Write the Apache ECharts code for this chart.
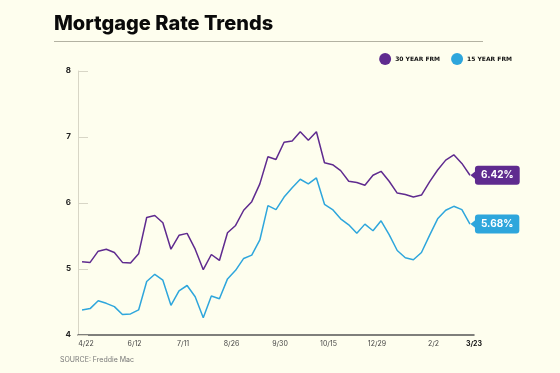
<!DOCTYPE html>
<html>
<head>
<meta charset="utf-8">
<script src="https://cdn.jsdelivr.net/npm/echarts@6/dist/echarts.min.js"></script>
<style>
html,body{margin:0;padding:0;background:#fefeee;}
#chart{width:560px;height:373px;}
</style>
</head>
<body>
<div id="chart"></div>
<script>
// Weekly dates (4/21/2022 - 3/23/2023)
const weeks = ['4/21','4/28','5/5','5/12','5/19','5/26','6/2','6/9','6/16','6/23','6/30','7/7','7/14','7/21','7/28','8/4','8/11','8/18','8/25','9/1','9/8','9/15','9/22','9/29','10/6','10/13','10/20','10/27','11/3','11/10','11/17','11/23','12/1','12/8','12/15','12/22','12/29','1/5','1/12','1/19','1/26','2/2','2/9','2/16','2/23','3/2','3/9','3/16','3/23'];
const frm30 = [5.11,5.10,5.27,5.30,5.25,5.10,5.09,5.23,5.78,5.81,5.70,5.30,5.51,5.54,5.30,4.99,5.22,5.13,5.55,5.66,5.89,6.02,6.29,6.70,6.66,6.92,6.94,7.08,6.95,7.08,6.61,6.58,6.49,6.33,6.31,6.27,6.42,6.48,6.33,6.15,6.13,6.09,6.12,6.32,6.50,6.65,6.73,6.60,6.42];
const frm15 = [4.38,4.40,4.52,4.48,4.43,4.31,4.32,4.38,4.81,4.92,4.83,4.45,4.67,4.75,4.58,4.26,4.59,4.55,4.85,4.98,5.16,5.21,5.44,5.96,5.90,6.09,6.23,6.36,6.29,6.38,5.98,5.90,5.76,5.67,5.54,5.68,5.58,5.73,5.52,5.28,5.17,5.14,5.25,5.51,5.76,5.89,5.95,5.90,5.68];
const xTickLabels = ['4/22','6/12','7/11','8/26','9/30','10/15','12/29','2/2','3/23'];
const xTickIndex = [0,6,12,18,24,30,36,43,48];
const yTicks = [4,5,6,7,8];

const PURPLE = '#5f2b8f';
const BLUE = '#2ea6dc';

function endLabel(color) {
  return {
    show: true,
    distance: 5,
    backgroundColor: color,
    borderRadius: 3,
    padding: [4, 6, 4, 6],
    color: '#fff',
    fontFamily: 'Inter, sans-serif',
    fontWeight: 'bold',
    fontSize: 10,
    lineHeight: 11,
    formatter: p => p.value.toFixed(2) + '%'
  };
}
function pointer(arr, color) {
  const last = arr.length - 1;
  return {
    silent: true,
    animation: false,
    data: [{ coord: [last, arr[last]] }],
    symbol: 'triangle',
    symbolRotate: 90,
    symbolSize: [8, 5],
    symbolOffset: [3, 0],
    itemStyle: { color: color },
    label: { show: false }
  };
}

const chart = echarts.init(document.getElementById('chart'));
chart.setOption({
  backgroundColor: '#fefeee',
  animation: false,
  title: {
    text: 'Mortgage Rate Trends',
    left: 49,
    top: 9,
    textStyle: { fontFamily: 'Inter, sans-serif', fontWeight: 800, fontSize: 20, color: '#0a0a0a' }
  },
  graphic: [{
    type: 'line',
    shape: { x1: 54, y1: 41.5, x2: 483, y2: 41.5 },
    style: { stroke: '#b3b2a2', lineWidth: 1 }
  }, {
    type: 'text',
    left: 60,
    top: 356,
    style: { text: 'SOURCE: Freddie Mac', fill: '#777', font: '7px Inter, sans-serif' }
  }],
  legend: {
    right: 43,
    top: 48,
    icon: 'circle',
    itemWidth: 12,
    itemHeight: 12,
    itemGap: 11,
    textStyle: { fontFamily: '"DejaVu Sans", sans-serif', fontWeight: 'bold', fontSize: 6, color: '#111', padding: [0, 0, 0, -1] },
    data: ['30 YEAR FRM', '15 YEAR FRM']
  },
  grid: { left: 78, right: 86, top: 71, bottom: 38 },
  xAxis: {
    type: 'category',
    data: weeks,
    boundaryGap: true,
    axisLine: { lineStyle: { color: '#555', width: 1.5 } },
    axisTick: { inside: true, length: 5, interval: 0, lineStyle: { color: '#666' } },
    axisLabel: {
      interval: 0,
      margin: 5,
      padding: [0, 0, 0, 8],
      color: '#444',
      fontFamily: 'Inter, sans-serif',
      fontSize: 7,
      formatter: (v, i) => {
        const k = xTickIndex.indexOf(i);
        if (k < 0) return '';
        return k === xTickLabels.length - 1 ? '{b|' + xTickLabels[k] + '}' : xTickLabels[k];
      },
      rich: { b: { fontWeight: 'bold', color: '#111', fontSize: 7, fontFamily: 'Inter, sans-serif' } }
    }
  },
  yAxis: {
    type: 'value',
    min: yTicks[0],
    max: yTicks[yTicks.length - 1],
    interval: 1,
    axisLine: { show: true, lineStyle: { color: '#d8d6c6', width: 1 } },
    axisTick: { show: true, inside: true, length: 10, lineStyle: { color: '#d8d6c6' } },
    splitLine: { show: false },
    axisLabel: { margin: 7, color: '#222', fontWeight: 'bold', fontSize: 8, fontFamily: 'Inter, sans-serif' }
  },
  series: [{
    name: '30 YEAR FRM',
    type: 'line',
    data: frm30,
    symbol: 'none',
    lineStyle: { color: PURPLE, width: 1.5 },
    itemStyle: { color: PURPLE },
    endLabel: endLabel(PURPLE),
    markPoint: pointer(frm30, PURPLE)
  }, {
    name: '15 YEAR FRM',
    type: 'line',
    data: frm15,
    symbol: 'none',
    lineStyle: { color: BLUE, width: 1.5 },
    itemStyle: { color: BLUE },
    endLabel: endLabel(BLUE),
    markPoint: pointer(frm15, BLUE)
  }]
});
</script>
</body>
</html>
